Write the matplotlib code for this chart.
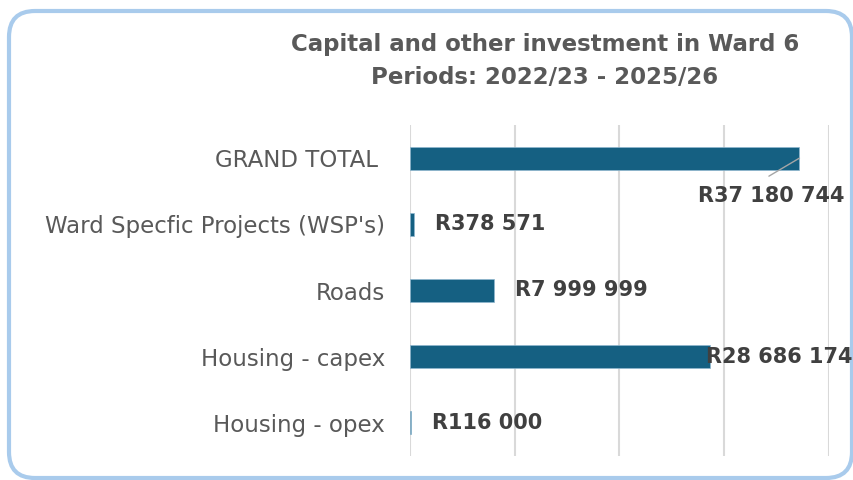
import matplotlib.pyplot as plt
from matplotlib.patches import FancyBboxPatch

categories = ["GRAND TOTAL ", "Ward Specfic Projects (WSP's)", "Roads",
              "Housing - capex", "Housing - opex"]
values = [37180744, 378571, 7999999, 28686174, 116000]
labels = ["R37 180 744", "R378 571", "R7 999 999", "R28 686 174", "R116 000"]

W, H = 854, 480
fig = plt.figure(figsize=(W / 100, H / 100), dpi=100)
fig.patch.set_facecolor("white")

# background axes in pixel units for the rounded frame
bg = fig.add_axes([0, 0, 1, 1])
bg.set_xlim(0, W)
bg.set_ylim(H, 0)
bg.axis("off")
bg.add_patch(FancyBboxPatch((9, 11), 843, 467,
                            boxstyle="round,pad=0,rounding_size=26",
                            facecolor="none", edgecolor="#a9cbec",
                            linewidth=3))

ax = fig.add_axes([410 / W, 1 - 456 / H, (829 - 410) / W, (456 - 125) / H])
y = range(len(categories))
ax.barh(y, values, height=0.35, color="#156082", edgecolor="#8fb7cf",
        linewidth=0.5, zorder=3)
ax.set_ylim(len(categories) - 0.5, -0.5)
ax.set_xlim(0, 40e6)
ax.set_xticks([0, 10e6, 20e6, 30e6, 40e6])
ax.tick_params(axis="x", length=0, labelbottom=False)
ax.tick_params(axis="y", length=0, pad=18)
ax.set_yticks(list(y))
ax.set_yticklabels(categories, fontsize=16.5, color="#595959")
ax.grid(axis="x", color="#d9d9d9", linewidth=1.5, zorder=0)
for s in ax.spines.values():
    s.set_visible(False)

lab_kw = dict(fontsize=15, fontweight="bold", color="#404040", va="center")
for i, (v, t) in enumerate(zip(values, labels)):
    if i == 0:
        # grand total label sits below the bar end with a leader line
        ax.annotate("", xy=(v, i), xytext=(-22, -13),
                    textcoords="offset points",
                    arrowprops=dict(arrowstyle="-", color="#a6a6a6", lw=1,
                                    shrinkA=0, shrinkB=0))
        ax.annotate(t, xy=(v, i), xytext=(-20, -27),
                    textcoords="offset points", ha="center", **lab_kw)
    elif i == 3:
        ax.annotate(t, xy=(v, i), xytext=(-3.5, 0), textcoords="offset points",
                    ha="left", **lab_kw)
    else:
        ax.annotate(t, xy=(v, i), xytext=(15, 0), textcoords="offset points",
                    ha="left", **lab_kw)

fig.text(545 / W, 1 - 45 / H, "Capital and other investment in Ward 6",
         ha="center", va="center", fontsize=16.5, fontweight="bold",
         color="#595959")
fig.text(545 / W, 1 - 77 / H, "Periods: 2022/23 - 2025/26",
         ha="center", va="center", fontsize=16.5, fontweight="bold",
         color="#595959")

fig.savefig("out.png", dpi=100)
